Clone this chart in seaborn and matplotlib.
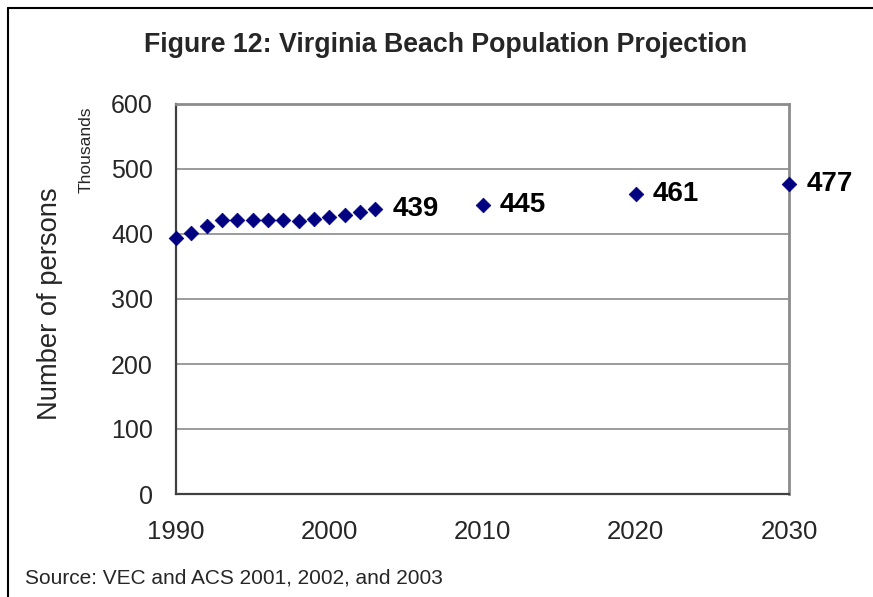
import matplotlib
matplotlib.use("Agg")
import matplotlib.pyplot as plt
from matplotlib.lines import Line2D
import seaborn as sns
import pandas as pd

# Population in thousands
years = [1990, 1991, 1992, 1993, 1994, 1995, 1996, 1997, 1998, 1999,
         2000, 2001, 2002, 2003, 2010, 2020, 2030]
population = [394, 401, 412, 421, 421.5, 421.5, 421, 422, 419.5, 422.5,
              426.5, 429.5, 434, 439, 445, 461, 477]
labeled_years = [2003, 2010, 2020, 2030]
x_ticks = [1990, 2000, 2010, 2020, 2030]
y_ticks = [0, 100, 200, 300, 400, 500, 600]

title = "Figure 12: Virginia Beach Population Projection"
y_title = "Number of persons"
unit_label = "Thousands"
source_note = "Source: VEC and ACS 2001, 2002, and 2003"

df = pd.DataFrame({"year": years, "population": population})

sns.set_style("white")
plt.rcParams["font.family"] = ["Liberation Sans", "DejaVu Sans"]

W, H = 873, 597
fig = plt.figure(figsize=(W / 100, H / 100), dpi=100)
ax = fig.add_axes([176 / W, 1 - 494 / H, (789 - 176) / W, (494 - 104) / H])

sns.scatterplot(data=df, x="year", y="population", marker="D", s=56,
                color="#000080", edgecolor="#000080", linewidth=0.5,
                ax=ax, clip_on=False, zorder=5, legend=False)

for yr, val in zip(years, population):
    if yr in labeled_years:
        ax.annotate(f"{val:.0f}", xy=(yr, val), xytext=(12.5, 0),
                    textcoords="offset points", ha="left", va="center",
                    fontsize=20, fontweight="bold", color="black")

ax.set_xlim(1990, 2030)
ax.set_ylim(0, 600)
ax.set_xticks(x_ticks)
ax.set_yticks(y_ticks)
ax.set_xticklabels([str(t) for t in x_ticks], fontsize=18.5)
ax.set_yticklabels([str(t) for t in y_ticks], fontsize=18)
ax.set_xlabel("")
ax.set_ylabel("")
ax.tick_params(axis="both", direction="out", length=6.5, width=1,
               color="#404040")
ax.tick_params(axis="y", pad=10)
ax.tick_params(axis="x", pad=12)

for y in y_ticks[1:-1]:
    ax.axhline(y, color="#808080", lw=1.1, zorder=1)

for side in ["top", "right"]:
    ax.spines[side].set_color("#8c8c8c")
    ax.spines[side].set_linewidth(2)
for side in ["left", "bottom"]:
    ax.spines[side].set_color("#404040")
    ax.spines[side].set_linewidth(1.6)

fig.text(446 / W, 1 - 45 / H, title, ha="center", va="center",
         fontsize=19.3, fontweight="bold")
fig.text(50 / W, 1 - 304 / H, y_title, ha="center", va="center",
         rotation=90, fontsize=19.7)
fig.text(86 / W, 1 - 150 / H, unit_label, ha="center", va="center",
         rotation=90, fontsize=12.5)
fig.text(25 / W, 1 - 578 / H, source_note, ha="left", va="center",
         fontsize=15)

# outer frame around the figure (top and left edges)
fig.add_artist(Line2D([8 / W, 8 / W], [0, 1 - 8 / H], color="black", lw=1.5,
                      transform=fig.transFigure))
fig.add_artist(Line2D([8 / W, 1], [1 - 8 / H, 1 - 8 / H], color="black", lw=1.5,
                      transform=fig.transFigure))

fig.savefig("out.png", dpi=100)
